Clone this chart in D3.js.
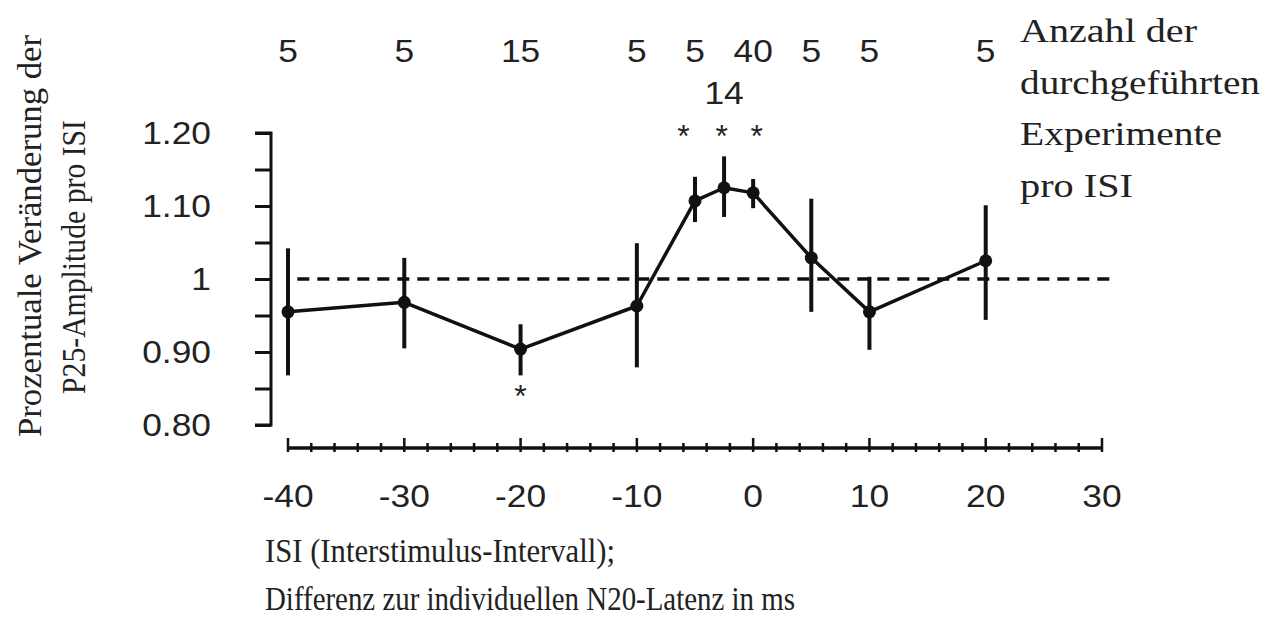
<!DOCTYPE html>
<html><head><meta charset="utf-8">
<script src="https://cdn.jsdelivr.net/npm/d3@7"></script>
<style>
html,body{margin:0;padding:0;background:#fff;}
svg{display:block;}
.sans{font-family:"Liberation Sans",Arial,sans-serif;fill:#222;}
.serif{font-family:"Liberation Serif","Times New Roman",serif;fill:#222;}
</style></head>
<body>
<svg id="chart" width="1278" height="621"></svg>
<script>
// ---- data ----
const isi      = [-40, -30, -20, -10, -5, -2.5, 0, 5, 10, 20];
const meanVal  = [0.955, 0.968, 0.904, 0.963, 1.107, 1.125, 1.118, 1.029, 0.955, 1.025];
const errLow   = [0.868, 0.905, 0.868, 0.879, 1.078, 1.085, 1.097, 0.955, 0.903, 0.944];
const errHigh  = [1.042, 1.029, 0.938, 1.049, 1.140, 1.168, 1.137, 1.110, 1.003, 1.101];
const countTop = ["5", "5", "15", "5", "5", "", "40", "5", "5", "5"];
const countLow = ["", "", "", "", "", "14", "", "", "", ""];
const starsAbove = [-6, -2.7, 0.3];
const starsBelow = [-20];
const yTicks = [0.8, 0.9, 1.0, 1.1, 1.2];
const yTickLabels = ["0.80", "0.90", "1", "1.10", "1.20"];
const yMinor = [0.85, 0.95, 1.05, 1.15];
const xTicks = [-40, -30, -20, -10, 0, 10, 20, 30];
const xTickLabels = ["-40", "-30", "-20", "-10", "0", "10", "20", "30"];
const refLine = 1.0;
const yTitle = ["Prozentuale Veränderung der", "P25-Amplitude pro ISI"];
const xTitle = ["ISI (Interstimulus-Intervall);", "Differenz zur individuellen N20-Latenz in ms"];
const countTitle = ["Anzahl der", "durchgeführten", "Experimente", "pro ISI"];

// ---- scales ----
const svg = d3.select("#chart");
const x = d3.scaleLinear().domain([-40, 30]).range([288, 1102]);
const y = d3.scaleLinear().domain([0.8, 1.2]).range([425, 133]);
const stretch = 1.14;
const sansSize = 31;
function widen(sel, k) {
  sel.each(function () {
    const w = this.getComputedTextLength();
    this.setAttribute("textLength", w * k);
    this.setAttribute("lengthAdjust", "spacingAndGlyphs");
  });
}

// ---- y axis ----
const yAxisX = 271;
const yAxis = d3.axisLeft(y).tickValues(yTicks.concat(yMinor)).tickSize(16).tickFormat("");
const gy = svg.append("g").attr("transform", `translate(${yAxisX},0)`).call(yAxis);
gy.select(".domain").attr("d", `M-16,${y(1.2)}H0V${y(0.8)}H-16`).attr("stroke", "#111").attr("stroke-width", 3).attr("fill", "none");
gy.selectAll(".tick line").attr("stroke", "#111").attr("stroke-width", 3);
const yl = svg.append("g").selectAll("text").data(yTicks).join("text")
  .attr("class", "sans").attr("x", 211).attr("y", d => y(d) + 11)
  .attr("text-anchor", "end").attr("font-size", sansSize)
  .text((d, i) => yTickLabels[i]);
widen(yl, stretch);

// ---- x axis ----
const xAxisY = 448;
const minorX = d3.range(-40, 31, 2).filter(v => v % 10 !== 0);
const gx = svg.append("g").attr("transform", `translate(0,${xAxisY})`);
gx.append("line").attr("x1", x(-40)).attr("x2", x(30)).attr("y1", 0).attr("y2", 0)
  .attr("stroke", "#111").attr("stroke-width", 3.5);
gx.selectAll("line.maj").data(xTicks).join("line").attr("class", "maj")
  .attr("x1", d => x(d)).attr("x2", d => x(d)).attr("y1", -10).attr("y2", 4)
  .attr("stroke", "#111").attr("stroke-width", 2.5);
gx.selectAll("line.min").data(minorX).join("line").attr("class", "min")
  .attr("x1", d => x(d)).attr("x2", d => x(d)).attr("y1", -5).attr("y2", 4)
  .attr("stroke", "#111").attr("stroke-width", 2.5);
const xl = svg.append("g").selectAll("text").data(xTicks).join("text")
  .attr("class", "sans").attr("x", d => x(d)).attr("y", 507)
  .attr("text-anchor", "middle").attr("font-size", sansSize)
  .text((d, i) => xTickLabels[i]);
widen(xl, stretch);

// ---- reference dashed line ----
svg.append("line").attr("x1", x(-39.2)).attr("x2", x(31)).attr("y1", y(refLine)).attr("y2", y(refLine))
  .attr("stroke", "#111").attr("stroke-width", 3.5).attr("stroke-dasharray", "12,8");

// ---- error bars ----
const pts = isi.map((v, i) => ({ x: v, m: meanVal[i], lo: errLow[i], hi: errHigh[i] }));
svg.append("g").selectAll("line").data(pts).join("line")
  .attr("x1", d => x(d.x)).attr("x2", d => x(d.x)).attr("y1", d => y(d.lo)).attr("y2", d => y(d.hi))
  .attr("stroke", "#111").attr("stroke-width", 4);

// ---- line + points ----
const line = d3.line().x(d => x(d.x)).y(d => y(d.m));
svg.append("path").datum(pts).attr("d", line).attr("fill", "none")
  .attr("stroke", "#111").attr("stroke-width", 3.5).attr("stroke-linejoin", "round");
svg.append("g").selectAll("circle").data(pts).join("circle")
  .attr("cx", d => x(d.x)).attr("cy", d => y(d.m)).attr("r", 6.5).attr("fill", "#111");

// ---- counts ----
const ct = svg.append("g").selectAll("text").data(isi).join("text")
  .attr("class", "sans").attr("x", d => x(d)).attr("y", 62)
  .attr("text-anchor", "middle").attr("font-size", sansSize)
  .text((d, i) => countTop[i]);
widen(ct.filter((d, i) => countTop[i] !== ""), stretch);
const cl = svg.append("g").selectAll("text").data(isi).join("text")
  .attr("class", "sans").attr("x", d => x(d)).attr("y", 104)
  .attr("text-anchor", "middle").attr("font-size", sansSize)
  .text((d, i) => countLow[i]);
widen(cl.filter((d, i) => countLow[i] !== ""), stretch);

// ---- significance stars ----
svg.append("g").selectAll("text").data(starsAbove).join("text")
  .attr("class", "sans").attr("x", d => x(d)).attr("y", 147)
  .attr("text-anchor", "middle").attr("font-size", 32).text("*");
svg.append("g").selectAll("text").data(starsBelow).join("text")
  .attr("class", "sans").attr("x", d => x(d)).attr("y", 407)
  .attr("text-anchor", "middle").attr("font-size", 32).text("*");

// ---- right annotation ----
const ctW = [177, 240, 202, 113];
svg.append("g").selectAll("text").data(countTitle).join("text")
  .attr("class", "serif").attr("x", 1020).attr("y", (d, i) => 42 + i * 51.5)
  .attr("font-size", 33)
  .attr("textLength", (d, i) => ctW[i]).attr("lengthAdjust", "spacingAndGlyphs")
  .text(d => d);

// ---- x title ----
const xtW = [350, 530];
svg.append("g").selectAll("text").data(xTitle).join("text")
  .attr("class", "serif").attr("x", 265).attr("y", (d, i) => 562 + i * 48)
  .attr("font-size", 33)
  .attr("textLength", (d, i) => xtW[i]).attr("lengthAdjust", "spacingAndGlyphs")
  .text(d => d);

// ---- y title ----
const ytPos = [{ cx: 41, cy: 236, w: 402 }, { cx: 85, cy: 257, w: 274 }];
svg.append("g").selectAll("text").data(yTitle).join("text")
  .attr("class", "serif").attr("text-anchor", "middle")
  .attr("transform", (d, i) => `translate(${ytPos[i].cx},${ytPos[i].cy}) rotate(-90)`)
  .attr("font-size", 33)
  .attr("textLength", (d, i) => ytPos[i].w).attr("lengthAdjust", "spacingAndGlyphs")
  .text(d => d);
</script>
</body></html>
